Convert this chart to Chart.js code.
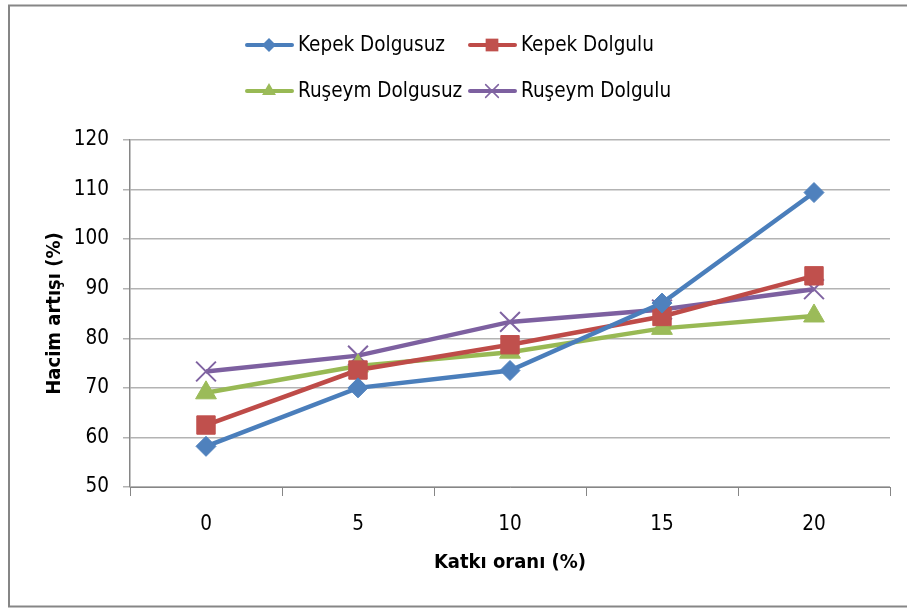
<!DOCTYPE html>
<html>
<head>
<meta charset="utf-8">
<script src="https://cdn.jsdelivr.net/npm/chart.js@4/dist/chart.umd.min.js"></script>
<style>
  html, body { margin: 0; padding: 0; background: #fff; }
  #wrap { position: relative; width: 907px; height: 608px; }
</style>
</head>
<body>
<div id="wrap"><canvas id="myChart" width="907" height="608"></canvas></div>
<script>
//data
var categories = ["0", "5", "10", "15", "20"];
var kepekDolgusuz = [58.2, 70.0, 73.5, 87.1, 109.4];
var kepekDolgulu = [62.5, 73.6, 78.7, 84.4, 92.6];
var rusDolgusuz = [69.0, 74.4, 77.2, 82.0, 84.5];
var rusDolgulu = [73.3, 76.5, 83.3, 85.8, 89.9];
var seriesNames = ["Kepek Dolgusuz", "Kepek Dolgulu", "Ruşeym Dolgusuz", "Ruşeym Dolgulu"];
var yTicks = [50, 60, 70, 80, 90, 100, 110, 120];

var FONT = "'DejaVu Sans Condensed', 'Liberation Sans', sans-serif";
var lineColors = ['#4a7ebb', '#be4b48', '#98b954', '#7d60a0'];
var markColors = ['#4f81bd', '#c0504d', '#9bbb59', '#8064a2'];
var markStyles = ['rectRot', 'rect', 'triangle', 'crossRot'];
var markSizes = [10, 13, 12, 14];

//outer frame, like the Excel chart area
var framePlugin = {
  id: 'frame',
  beforeDraw: function(chart) {
    var c = chart.ctx;
    c.save();
    c.strokeStyle = '#868686';
    c.lineWidth = 2;
    c.strokeRect(9, 5.5, 1000, 601);
    c.restore();
  }
};

//legend laid out in two columns
function drawMark(c, style, x, y, r, color) {
  c.fillStyle = color;
  c.strokeStyle = color;
  c.beginPath();
  if (style === 'rectRot') {
    c.moveTo(x, y - r); c.lineTo(x + r, y); c.lineTo(x, y + r); c.lineTo(x - r, y);
    c.closePath(); c.fill();
  } else if (style === 'rect') {
    var s = r * Math.SQRT1_2;
    c.rect(x - s, y - s, 2 * s, 2 * s); c.fill();
  } else if (style === 'triangle') {
    c.moveTo(x, y - r);
    c.lineTo(x + r * 0.866, y + r / 2);
    c.lineTo(x - r * 0.866, y + r / 2);
    c.closePath(); c.fill();
  } else {
    var d = r * Math.SQRT1_2;
    c.lineWidth = 1.5;
    c.moveTo(x - d, y - d); c.lineTo(x + d, y + d);
    c.moveTo(x + d, y - d); c.lineTo(x - d, y + d);
    c.stroke();
  }
}

var legendPlugin = {
  id: 'twoColLegend',
  afterDraw: function(chart) {
    var c = chart.ctx;
    var cols = [245, 468];
    var rows = [45, 91];
    var legendSizes = [7, 9, 8, 9];
    c.save();
    for (var i = 0; i < seriesNames.length; i++) {
      var x0 = cols[i % 2];
      var y0 = rows[Math.floor(i / 2)];
      c.strokeStyle = lineColors[i];
      c.lineWidth = 4;
      c.lineCap = 'round';
      c.beginPath();
      c.moveTo(x0 + 2, y0); c.lineTo(x0 + 47, y0);
      c.stroke();
      drawMark(c, markStyles[i], x0 + 24, y0, legendSizes[i], markColors[i]);
      c.fillStyle = '#000';
      c.font = '20.5px ' + FONT;
      c.textBaseline = 'middle';
      c.textAlign = 'left';
      c.fillText(seriesNames[i], x0 + 53, y0 + 1);
    }
    c.restore();
  }
};

var allSeries = [kepekDolgusuz, kepekDolgulu, rusDolgusuz, rusDolgulu];
var datasets = allSeries.map(function(vals, i) {
  return {
    label: seriesNames[i],
    data: vals,
    borderColor: lineColors[i],
    backgroundColor: markColors[i],
    borderWidth: 4.5,
    pointStyle: markStyles[i],
    pointRadius: markSizes[i],
    pointHoverRadius: markSizes[i],
    pointBackgroundColor: markColors[i],
    pointBorderColor: markColors[i],
    pointBorderWidth: markStyles[i] === 'crossRot' ? 2 : 1,
    tension: 0
  };
});

var ctx = document.getElementById('myChart').getContext('2d');
var myChart = new Chart(ctx, {
  type: 'line',
  data: {
    labels: categories,
    datasets: datasets
  },
  plugins: [framePlugin, legendPlugin],
  options: {
    responsive: false,
    animation: false,
    events: [],
    layout: {
      padding: { top: 140, right: 17, bottom: 0, left: 0 }
    },
    plugins: {
      legend: { display: false },
      tooltip: { enabled: false }
    },
    scales: {
      x: {
        offset: true,
        grid: {
          offset: true,
          drawOnChartArea: false,
          drawTicks: true,
          tickLength: 9,
          color: '#868686'
        },
        border: { color: '#868686', width: 1 },
        ticks: {
          color: '#000',
          font: { family: FONT, size: 20.5 },
          padding: 16,
          maxRotation: 0
        },
        title: {
          display: true,
          text: 'Katkı oranı (%)',
          color: '#000',
          font: { family: FONT, size: 20, weight: 'bold' },
          padding: { top: 0, bottom: 33 }
        },
        afterFit: function(scale) { scale.height = 121; }
      },
      y: {
        min: 50,
        max: 120,
        afterBuildTicks: function(scale) {
          scale.ticks = yTicks.map(function(v) { return { value: v }; });
        },
        grid: {
          color: '#b3b3b3',
          lineWidth: 1.5,
          drawTicks: true,
          tickLength: 7
        },
        border: { color: '#868686', width: 1.5 },
        ticks: {
          color: '#000',
          font: { family: FONT, size: 20.5 },
          padding: 14
        },
        title: {
          display: true,
          text: 'Hacim artışı (%)',
          color: '#000',
          font: { family: FONT, size: 20, weight: 'bold' },
          padding: { top: 43, bottom: 0 }
        },
        afterFit: function(scale) { scale.width = 130; }
      }
    }
  }
});
</script>
</body>
</html>
